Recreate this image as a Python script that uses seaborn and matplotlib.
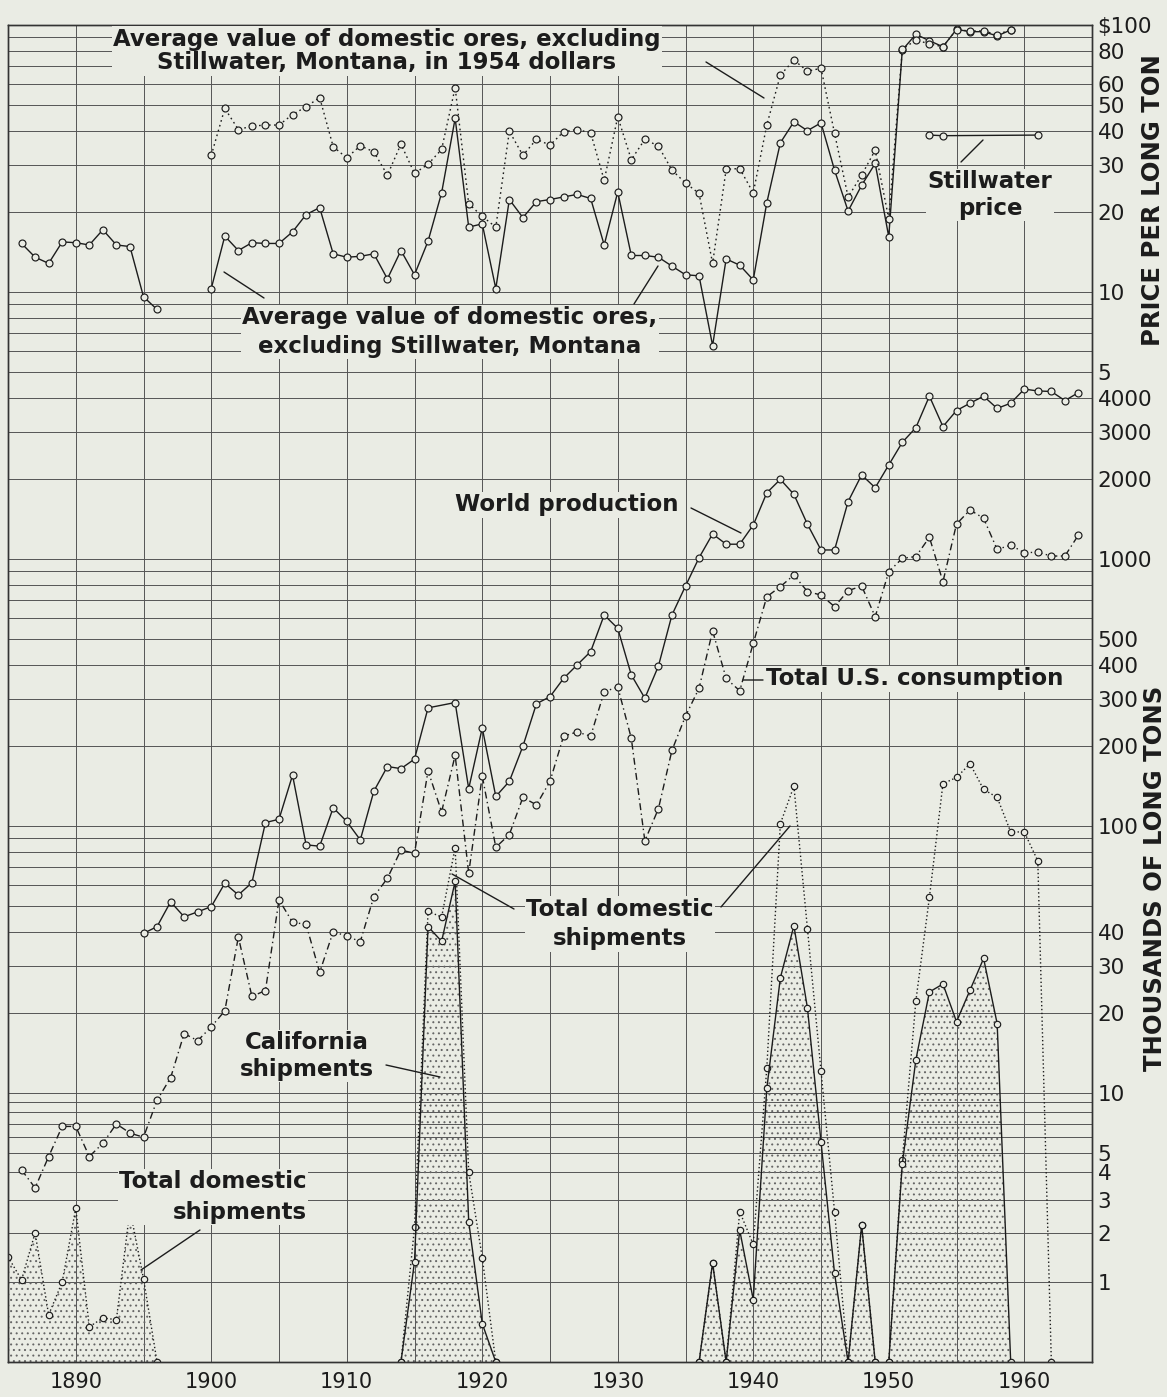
import numpy as np
import matplotlib
matplotlib.use("Agg")
import matplotlib.pyplot as plt
from matplotlib.ticker import FixedLocator, NullLocator, NullFormatter
import seaborn as sns

W, H = 1167, 1397
BG = "#eaece4"
INK = "#1c1c1c"
GRID = "#555555"

# ---- price per long ton (dollars) ----
price_years_early = list(range(1886, 1897))
price_early = [15.2, 13.5, 12.8, 15.4, 15.3, 15.0, 17.1, 15.0, 14.8, 9.6, 8.6]

price_years = list(range(1900, 1960))
price_current = [10.3, 16.2, 14.3, 15.3, 15.2, 15.2, 16.8, 19.5, 20.7, 13.9,
                 13.5, 13.6, 13.9, 11.2, 14.3, 11.6, 15.5, 23.5, 44.7, 17.5,
                 18.0, 10.3, 22.2, 19.0, 21.8, 22.2, 22.7, 23.2, 22.4, 15.0,
                 23.7, 13.7, 13.7, 13.5, 12.5, 11.6, 11.5, 6.3, 13.3, 12.6,
                 11.1, 21.6, 36.2, 43.4, 40.2, 43.0, 28.6, 20.1, 25.1, 30.3,
                 16.1, 80.6, 92.3, 87.3, 82.9, 96.3, 94.4, 94.4, 91.0, 95.8]
price_1954 = [32.5, 48.7, 40.6, 41.8, 42.2, 42.2, 46.2, 49.4, 53.5, 35.0,
              31.8, 35.3, 33.5, 27.4, 35.8, 27.8, 30.1, 34.2, 58.3, 21.4,
              19.2, 17.5, 40.0, 32.5, 37.3, 35.5, 39.8, 40.6, 39.5, 26.2,
              45.3, 31.3, 37.3, 35.2, 28.6, 25.6, 23.4, 12.8, 28.8, 29.0,
              23.5, 42.2, 64.9, 73.9, 67.2, 68.8, 39.3, 22.7, 27.4, 34.0,
              18.8, 81.1, 87.8, 85.0, 82.9, 96.0, 95.0, 95.0, 92.0, 96.0]

stillwater_years = [1953, 1954, 1961]
stillwater_price = [38.7, 38.5, 38.7]

# ---- thousands of long tons ----
world_years = list(range(1895, 1917)) + list(range(1918, 1965))
world_prod = [39.6, 42, 52, 45.7, 47.7, 49.9, 61, 55.2, 61.3, 103,
              106, 155, 85, 84, 117, 104, 88.7, 135, 167, 164,
              178, 277, 290, 138, 233, 129, 147, 199, 287, 305,
              357, 401, 450, 617, 550, 368, 301, 397, 617, 792,
              1011, 1241, 1136, 1136, 1340, 1770, 1987, 1746, 1349, 1081,
              1081, 1641, 2065, 1849, 2250, 2735, 3103, 4072, 3133, 3597,
              3833, 4072, 3664, 3833, 4328, 4260, 4240, 3920, 4200]

cons_years = list(range(1886, 1965))
consumption = [4.1, 3.4, 4.8, 6.8, 6.8, 4.8, 5.6, 7.0, 6.3, 6.0, 9.2,
               11.4, 16.7, 15.7, 17.7, 20.3, 38.4, 23, 24.2, 52.9, 43.6,
               42.8, 28.3, 40.2, 38.7, 36.9, 54.4, 63.7, 81.3, 79, 161,
               113, 184, 66.6, 154, 83.2, 92.9, 128, 120, 147, 217,
               225, 217, 318, 332, 213, 88, 116, 192, 258, 328,
               538, 357, 321, 483, 722, 788, 871, 755, 733, 663,
               761, 792, 608, 896, 1006, 1021, 1206, 822, 1352, 1527,
               1420, 1086, 1127, 1056, 1060, 1026, 1026, 1230]

ship_years_a = list(range(1885, 1897))
ship_total_a = [1.43, 1.03, 2.0, 0.59, 1.0, 2.71, 0.44, 0.55, 0.53, 2.67, 1.05, 0]

ship_years_b = list(range(1914, 1922))
ship_total_b = [0, 2.14, 47.9, 45.6, 83, 4.0, 1.41, 0]
ship_calif_b = [0, 1.33, 42, 37, 62, 2.3, 0.48, 0]

ship_years_c = list(range(1936, 1950))
ship_total_c = [0, 1.31, 0, 2.6, 1.7, 12.4, 102, 141, 41.2, 12.1, 2.6, 0, 2.2, 0]
ship_calif_c = [0, 1.31, 0, 2.07, 0.78, 10.4, 27, 42.3, 20.8, 5.7, 1.13, 0, 2.2, 0]

ship_years_d = list(range(1950, 1963))
ship_total_d = [0, 4.6, 22.1, 54, 144, 152, 171, 137, 128, 95, 95, 74, 0]
calif_years_d = list(range(1950, 1960))
ship_calif_d = [0, 4.4, 13.3, 23.9, 25.6, 18.5, 24.3, 31.9, 18.2, 0]

# ---- axis ticks ----
ton_ticks = [1, 2, 3, 4, 5, 10, 20, 30, 40, 100, 200, 300, 400, 500,
             1000, 2000, 3000, 4000]
price_ticks = [5, 10, 20, 30, 40, 50, 60, 80, 100]
price_labels = ["5", "10", "20", "30", "40", "50", "60", "80", "$100"]
ton_grid = [1, 2, 3, 4, 5, 6, 7, 8, 9, 10, 20, 30, 40, 50, 60, 70, 80, 90,
            100, 200, 300, 400, 500, 600, 700, 800, 900, 1000, 2000, 3000, 4000]
price_grid = [5, 6, 7, 8, 9, 10, 20, 30, 40, 50, 60, 70, 80, 90, 100]
year_ticks = list(range(1890, 1961, 10))
year_grid = list(range(1885, 1966, 5))

# the chart's vertical scale: log above 10, squeezed log from 1 to 10,
# linear from 0 to 1 (0 sits on the bottom line)
KNOT_V = np.log10([1, 2, 3, 4, 5, 10])
KNOT_U = np.array([0.292, 0.476, 0.599, 0.704, 0.775, 1.0])
ZERO_U = -0.0075


def fwd(v):
    v = np.asarray(v, dtype=float)
    lv = np.log10(np.where(v > 0, v, 1e-9))
    mid = np.interp(lv, KNOT_V, KNOT_U)
    low = ZERO_U + v * (KNOT_U[0] - ZERO_U)
    return np.where(v >= 10, lv, np.where(v >= 1, mid, low))


def inv(u):
    u = np.asarray(u, dtype=float)
    hi = 10 ** np.clip(u, -10, 50)
    mid = 10 ** np.interp(u, KNOT_U, KNOT_V)
    low = (u - ZERO_U) / (KNOT_U[0] - ZERO_U)
    return np.where(u >= 1, hi, np.where(u >= KNOT_U[0], mid, low))


def px(x, y):
    return (x / W, 1 - y / H)


sns.set_style("white")
plt.rcParams["font.family"] = ["DejaVu Sans"]
plt.rcParams["hatch.linewidth"] = 0.7

fig = plt.figure(figsize=(W / 100, H / 100), dpi=100, facecolor=BG)
ax = fig.add_axes([8 / W, 35 / H, 1084 / W, 1337 / H])
ax.set_facecolor(BG)
ax.set_yscale("function", functions=(fwd, inv))
ax.set_ylim(0, 100000)
ax.set_xlim(1885, 1965)

ax2 = ax.twinx()
ax2.set_yscale("function", functions=(lambda p: fwd(np.asarray(p) * 1000),
                                      lambda u: inv(u) / 1000))
ax2.set_ylim(0, 100)

# grid
ax.yaxis.set_minor_locator(FixedLocator(ton_grid + [p * 1000 for p in price_grid]))
ax.yaxis.set_minor_formatter(NullFormatter())
ax.set_yticks(ton_ticks)
ax.set_yticklabels([str(t) for t in ton_ticks])
ax.yaxis.tick_right()
ax.set_xticks(year_ticks)
ax.set_xticklabels([str(y) for y in year_ticks])
ax.xaxis.set_minor_locator(FixedLocator(year_grid))
ax.grid(True, which="both", color=GRID, linewidth=0.7)
ax.set_axisbelow(True)
ax.tick_params(axis="y", which="both", length=0, pad=4, labelsize=15.5, labelcolor=INK)
ax.tick_params(axis="x", which="both", length=0, pad=7, labelsize=15, labelcolor=INK)

ax2.set_yticks(price_ticks)
ax2.set_yticklabels(price_labels)
ax2.yaxis.set_minor_locator(NullLocator())
ax2.tick_params(axis="y", length=0, pad=4, labelsize=15.5, labelcolor=INK)
ax2.grid(False)

for a in (ax, ax2):
    for s in a.spines.values():
        s.set_color("#333333")
        s.set_linewidth(1.0)


def draw(axis, x, y, ls="-", ms=5):
    sns.lineplot(x=x, y=y, ax=axis, color=INK, linewidth=1.0, linestyle=ls,
                 marker="o", markersize=ms, markerfacecolor=BG,
                 markeredgecolor=INK, markeredgewidth=0.85,
                 estimator=None, sort=False, errorbar=None, legend=False)


def stipple(x, y):
    ax.fill_between(x, y, 0, facecolor="none", edgecolor="#666666",
                    hatch="...", linewidth=0, zorder=1)


DOT = (0, (1.2, 2.4))
DASHDOT = (0, (5, 2.5, 1, 2.5))
SHIPDOT = (0, (1, 1.8))

# price section
draw(ax2, price_years_early, price_early)
draw(ax2, price_years, price_current)
draw(ax2, price_years, price_1954, DOT)
draw(ax2, stillwater_years, stillwater_price)

# tonnage section
draw(ax, world_years, world_prod)
draw(ax, cons_years, consumption, DASHDOT)

stipple(ship_years_a, ship_total_a)
stipple(ship_years_b, ship_calif_b)
stipple(ship_years_c, ship_calif_c)
stipple(calif_years_d, ship_calif_d)
draw(ax, ship_years_a, ship_total_a, SHIPDOT, 4.6)
for yrs, tot in ((ship_years_b, ship_total_b), (ship_years_c, ship_total_c),
                 (ship_years_d, ship_total_d)):
    draw(ax, yrs, tot, SHIPDOT, 4.6)
for yrs, cal in ((ship_years_b, ship_calif_b), (ship_years_c, ship_calif_c),
                 (calif_years_d, ship_calif_d)):
    draw(ax, yrs, cal, "-", 4.6)

ax.set_xlabel("")
ax.set_ylabel("")
ax2.set_ylabel("")

# annotations
note = dict(color=INK, fontsize=16.5, fontweight="bold",
            bbox=dict(fc=BG, ec="none", pad=1.0))
fig.text(*px(387, 51), "Average value of domestic ores, excluding\n"
         "Stillwater, Montana, in 1954 dollars", ha="center", va="center",
         linespacing=1.05, **note)
fig.text(*px(450, 332), "Average value of domestic ores,\n"
         "excluding Stillwater, Montana", ha="center", va="center",
         linespacing=1.3, **note)
fig.text(*px(990, 195), "Stillwater\nprice", ha="center", va="center",
         linespacing=1.2, **note)
fig.text(*px(567, 505), "World production", ha="center", va="center", **note)
fig.text(*px(766, 679), "Total U.S. consumption", ha="left", va="center", **note)
fig.text(*px(620, 924), "Total domestic\nshipments", ha="center", va="center",
         linespacing=1.35, **note)
fig.text(*px(307, 1056), "California\nshipments", ha="center", va="center",
         linespacing=1.2, **note)
fig.text(*px(307, 1197), "Total domestic\nshipments", ha="right", va="center",
         multialignment="right", linespacing=1.4, **note)

leaders = [((706, 62), (764, 98)), ((224, 272), (264, 298)),
           ((634, 304), (658, 266)), ((961, 162), (983, 140)),
           ((691, 508), (741, 533)), ((743, 680), (763, 680)),
           ((514, 909), (452, 874)), ((721, 907), (790, 826)),
           ((386, 1065), (440, 1077)), ((200, 1230), (141, 1270))]
for a, b in leaders:
    ax.annotate("", xy=px(*b), xytext=px(*a), xycoords="figure fraction",
                textcoords="figure fraction",
                arrowprops=dict(arrowstyle="-", color=INK, lw=1.0,
                                shrinkA=0, shrinkB=0))

fig.text(*px(1153, 200), "PRICE PER LONG TON", rotation=90, ha="center",
         va="center", fontsize=17.5, fontweight="bold", color=INK)
fig.text(*px(1155, 878), "THOUSANDS OF LONG TONS", rotation=90, ha="center",
         va="center", fontsize=17.5, fontweight="bold", color=INK)

fig.savefig("out.png", dpi=100, facecolor=BG)
